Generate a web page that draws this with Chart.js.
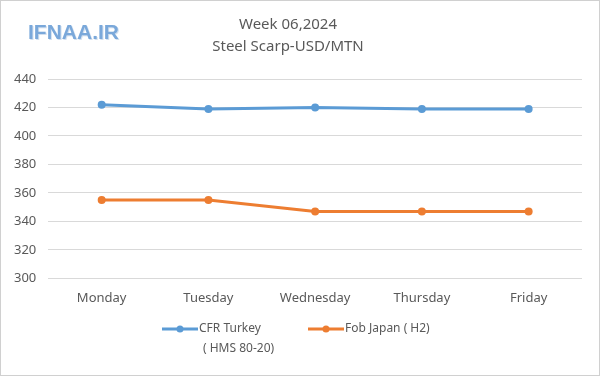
<!DOCTYPE html>
<html>
<head>
    <title>Steel Scrap</title>
    <script src="https://cdn.jsdelivr.net/npm/chart.js"></script>
    <style>
        body { margin: 0; background: #fff; }
    </style>
</head>
<body>
    <canvas id="myChart" width="600" height="376"></canvas>

    <script>
        // data
        var days = ["Monday", "Tuesday", "Wednesday", "Thursday", "Friday"];
        var cfrTurkey = [422, 419, 420, 419, 419];
        var fobJapan = [355, 355, 347, 347, 347];
        var seriesNames = [["CFR Turkey", "( HMS 80-20)"], ["Fob Japan ( H2)"]];
        var titleLines = ["Week 06,2024", "Steel Scarp-USD/MTN"];

        var blue = "#5B9BD5";
        var orange = "#ED7D31";
        var grey = "#595959";
        var fontName = "'Noto Sans', sans-serif";

        // title, watermark, legend and frame drawn on top
        var extras = {
            id: "extras",
            afterDraw: function(chart) {
                var c = chart.ctx;
                c.save();
                // frame
                c.strokeStyle = "#d0d0d0";
                c.lineWidth = 1;
                c.strokeRect(0.5, 0.5, 599, 375);

                // watermark
                c.font = "bold 21px 'Liberation Sans', sans-serif";
                c.textBaseline = "middle";
                c.textAlign = "left";
                c.fillStyle = "#d3e0ef";
                c.fillText("IFNAA.IR", 29, 34);
                c.fillStyle = "#7aa8da";
                c.fillText("IFNAA.IR", 28, 33);

                // title
                c.fillStyle = grey;
                c.textAlign = "center";
                c.font = "15px " + fontName;
                c.fillText(titleLines[0], 288, 25);
                c.fillText(titleLines[1], 288, 47);

                // legend
                c.font = "12px " + fontName;
                c.textAlign = "left";
                var items = [
                    { x: 162, color: blue, text: seriesNames[0] },
                    { x: 308, color: orange, text: seriesNames[1] }
                ];
                items.forEach(function(it) {
                    var y = 329;
                    c.strokeStyle = it.color;
                    c.lineWidth = 3;
                    c.beginPath();
                    c.moveTo(it.x, y);
                    c.lineTo(it.x + 36, y);
                    c.stroke();
                    c.fillStyle = it.color;
                    c.beginPath();
                    c.arc(it.x + 18, y, 3.5, 0, Math.PI * 2);
                    c.fill();
                    c.fillStyle = grey;
                    it.text.forEach(function(t, i) {
                        c.fillText(t, it.x + 37 + (i > 0 ? 4 : 0), y + i * 20);
                    });
                });
                c.restore();
            }
        };

        var ctx = document.getElementById("myChart").getContext("2d");
        new Chart(ctx, {
            type: "line",
            data: {
                labels: days,
                datasets: [
                    {
                        label: seriesNames[0].join(" "),
                        data: cfrTurkey,
                        borderColor: blue,
                        backgroundColor: blue,
                        borderWidth: 3,
                        pointRadius: 4,
                        pointBorderWidth: 0,
                        tension: 0
                    },
                    {
                        label: seriesNames[1].join(" "),
                        data: fobJapan,
                        borderColor: orange,
                        backgroundColor: orange,
                        borderWidth: 3,
                        pointRadius: 4,
                        pointBorderWidth: 0,
                        tension: 0
                    }
                ]
            },
            options: {
                responsive: false,
                animation: false,
                layout: {
                    padding: { top: 79, left: 2, right: 18, bottom: 66 }
                },
                plugins: {
                    legend: { display: false },
                    title: { display: false },
                    tooltip: { enabled: false }
                },
                scales: {
                    x: {
                        offset: true,
                        grid: { display: false },
                        border: { display: false },
                        ticks: {
                            color: grey,
                            padding: 4,
                            font: { family: fontName, size: 13 }
                        }
                    },
                    y: {
                        min: 300,
                        max: 440,
                        border: { display: false },
                        grid: { color: "#d9d9d9", drawTicks: false },
                        ticks: {
                            stepSize: 20,
                            color: grey,
                            padding: 12,
                            font: { family: fontName, size: 13 }
                        }
                    }
                }
            },
            plugins: [extras]
        });
    </script>
</body>
</html>
